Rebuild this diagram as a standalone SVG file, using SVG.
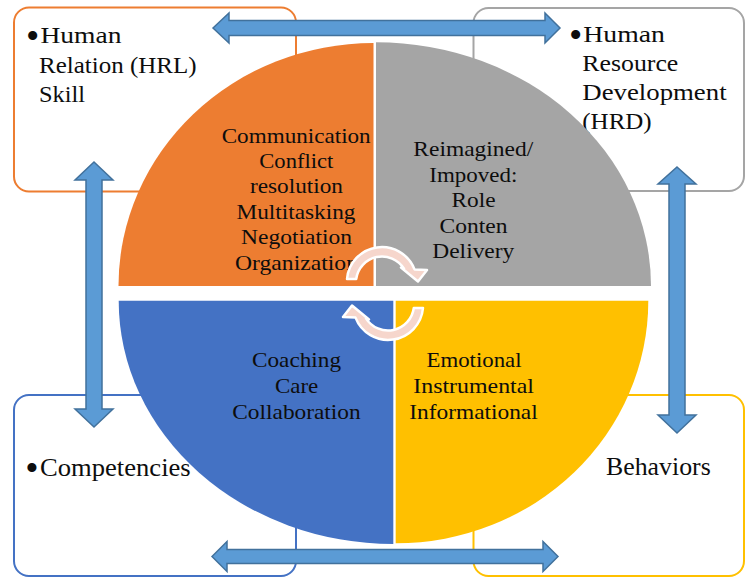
<svg xmlns="http://www.w3.org/2000/svg" width="745" height="577" viewBox="0 0 745 577">
  <style>
    .box { fill: #FFFFFF; stroke-width: 2; }
    .t { font-family: "Liberation Serif", "Times New Roman", serif; fill: #0D0D0D; }
    .tb { font-size: 22.5px; }
    .tq { font-size: 21px; }
    .tl { font-size: 25.5px; }
    .bul { font-size: 38px; }
    .block { fill: #5B9BD5; stroke: #41719C; stroke-width: 1.5; stroke-linejoin: miter; }
    .cyc { fill: #F6D6CC; stroke: #FFFFFF; stroke-width: 2.5; stroke-linejoin: round; }
  </style>
  <defs>
    <!-- clockwise curved arrow; second copy is rotated half a turn -->
    <path id="cycleArrow" d="M347,279 A35,35 0 0 1 414.5,269.4 L427,270 L418,281.5 L401,267.5 L404,268.7 A26,26 0 0 0 356.2,279 Z"/>
  </defs>

  <!-- outer rounded boxes with their labels -->
  <g id="box-hrl">
    <rect class="box" x="14" y="7.5" width="282" height="184" rx="15" stroke="#ED7D31"/>
    <text class="t bul" x="26" y="48.5">•</text>
    <text class="t tb" x="40.5" y="43.3" textLength="81" lengthAdjust="spacingAndGlyphs">Human</text>
    <text class="t tb" x="39" y="73.3" textLength="157.5" lengthAdjust="spacingAndGlyphs">Relation (HRL)</text>
    <text class="t tb" x="39" y="102.3" textLength="46" lengthAdjust="spacingAndGlyphs">Skill</text>
  </g>
  <g id="box-hrd">
    <rect class="box" x="473.5" y="8" width="270.5" height="183" rx="15" stroke="#A5A5A5"/>
    <text class="t bul" x="569" y="48">•</text>
    <text class="t tb" x="583.3" y="42" textLength="81.7" lengthAdjust="spacingAndGlyphs">Human</text>
    <text class="t tb" x="582.3" y="71" textLength="96" lengthAdjust="spacingAndGlyphs">Resource</text>
    <text class="t tb" x="582.3" y="100" textLength="144.3" lengthAdjust="spacingAndGlyphs">Development</text>
    <text class="t tb" x="582.3" y="128.5" textLength="69.4" lengthAdjust="spacingAndGlyphs">(HRD)</text>
  </g>
  <g id="box-competencies">
    <rect class="box" x="14" y="395" width="282" height="181" rx="15" stroke="#4472C4"/>
    <text class="t bul" x="25.3" y="481.3">•</text>
    <text class="t tl" x="40" y="475.7" textLength="150.7" lengthAdjust="spacingAndGlyphs">Competencies</text>
  </g>
  <g id="box-behaviors">
    <rect class="box" x="473.5" y="395" width="270.5" height="181" rx="15" stroke="#FFC000"/>
    <text class="t tl" x="606" y="475" textLength="104.7" lengthAdjust="spacingAndGlyphs">Behaviors</text>
  </g>

  <!-- four quarter-ellipse segments -->
  <g id="quad-orange">
    <path d="M373.5,286 L118.5,286 A255,243 0 0 1 373.5,43 Z" fill="#ED7D31"/>
    <text class="t tq" x="221.7" y="143" textLength="149" lengthAdjust="spacingAndGlyphs">Communication</text>
    <text class="t tq" x="259.3" y="167.5" textLength="74" lengthAdjust="spacingAndGlyphs">Conflict</text>
    <text class="t tq" x="250" y="193" textLength="93" lengthAdjust="spacingAndGlyphs">resolution</text>
    <text class="t tq" x="236.5" y="218.5" textLength="119" lengthAdjust="spacingAndGlyphs">Multitasking</text>
    <text class="t tq" x="241" y="244" textLength="111" lengthAdjust="spacingAndGlyphs">Negotiation</text>
    <text class="t tq" x="235" y="269.5" textLength="123" lengthAdjust="spacingAndGlyphs">Organization</text>
  </g>
  <g id="quad-gray">
    <path d="M376,286 L376,42.3 A275,243.7 0 0 1 651,286 Z" fill="#A5A5A5"/>
    <text class="t tq" x="413.3" y="156" textLength="120" lengthAdjust="spacingAndGlyphs">Reimagined/</text>
    <text class="t tq" x="429.3" y="181.5" textLength="88" lengthAdjust="spacingAndGlyphs">Impoved:</text>
    <text class="t tq" x="451.5" y="207" textLength="44" lengthAdjust="spacingAndGlyphs">Role</text>
    <text class="t tq" x="439.5" y="232.5" textLength="68" lengthAdjust="spacingAndGlyphs">Conten</text>
    <text class="t tq" x="432.3" y="258" textLength="82" lengthAdjust="spacingAndGlyphs">Delivery</text>
  </g>
  <g id="quad-blue">
    <path d="M393.3,300.7 L393.3,544 A274.6,243.3 0 0 1 118.7,300.7 Z" fill="#4472C4"/>
    <text class="t tq" x="252" y="366.5" textLength="89" lengthAdjust="spacingAndGlyphs">Coaching</text>
    <text class="t tq" x="275" y="393" textLength="43.3" lengthAdjust="spacingAndGlyphs">Care</text>
    <text class="t tq" x="232.3" y="419.3" textLength="128.4" lengthAdjust="spacingAndGlyphs">Collaboration</text>
  </g>
  <g id="quad-yellow">
    <path d="M395.7,300.7 L648.3,300.7 A252.6,242.6 0 0 1 395.7,543.3 Z" fill="#FFC000"/>
    <text class="t tq" x="426.5" y="366.5" textLength="95" lengthAdjust="spacingAndGlyphs">Emotional</text>
    <text class="t tq" x="413.3" y="393" textLength="120.7" lengthAdjust="spacingAndGlyphs">Instrumental</text>
    <text class="t tq" x="409.3" y="419.3" textLength="128.4" lengthAdjust="spacingAndGlyphs">Informational</text>
  </g>

  <!-- connectors: double-headed block arrows and the central cycle arrows -->
  <g id="connectors">
    <path class="block" d="M213,28 L229,13 L229,20.5 L545,20.5 L545,13 L560,28 L545,43 L545,35.5 L229,35.5 L229,43 Z"/>
    <path class="block" d="M212,556.5 L227,541.5 L227,549.5 L543,549.5 L543,541.5 L558,556.5 L543,571.5 L543,563.5 L227,563.5 L227,571.5 Z"/>
    <path class="block" d="M94,162 L113,180 L102,180 L102,409 L113,409 L94,427 L75,409 L86,409 L86,180 L75,180 Z"/>
    <path class="block" d="M677,167 L696,184 L685,184 L685,415 L696,415 L677,433 L658,415 L669,415 L669,184 L658,184 Z"/>
    <use href="#cycleArrow" class="cyc"/>
    <use href="#cycleArrow" class="cyc" transform="rotate(180 385 293.5)"/>
  </g>
</svg>
